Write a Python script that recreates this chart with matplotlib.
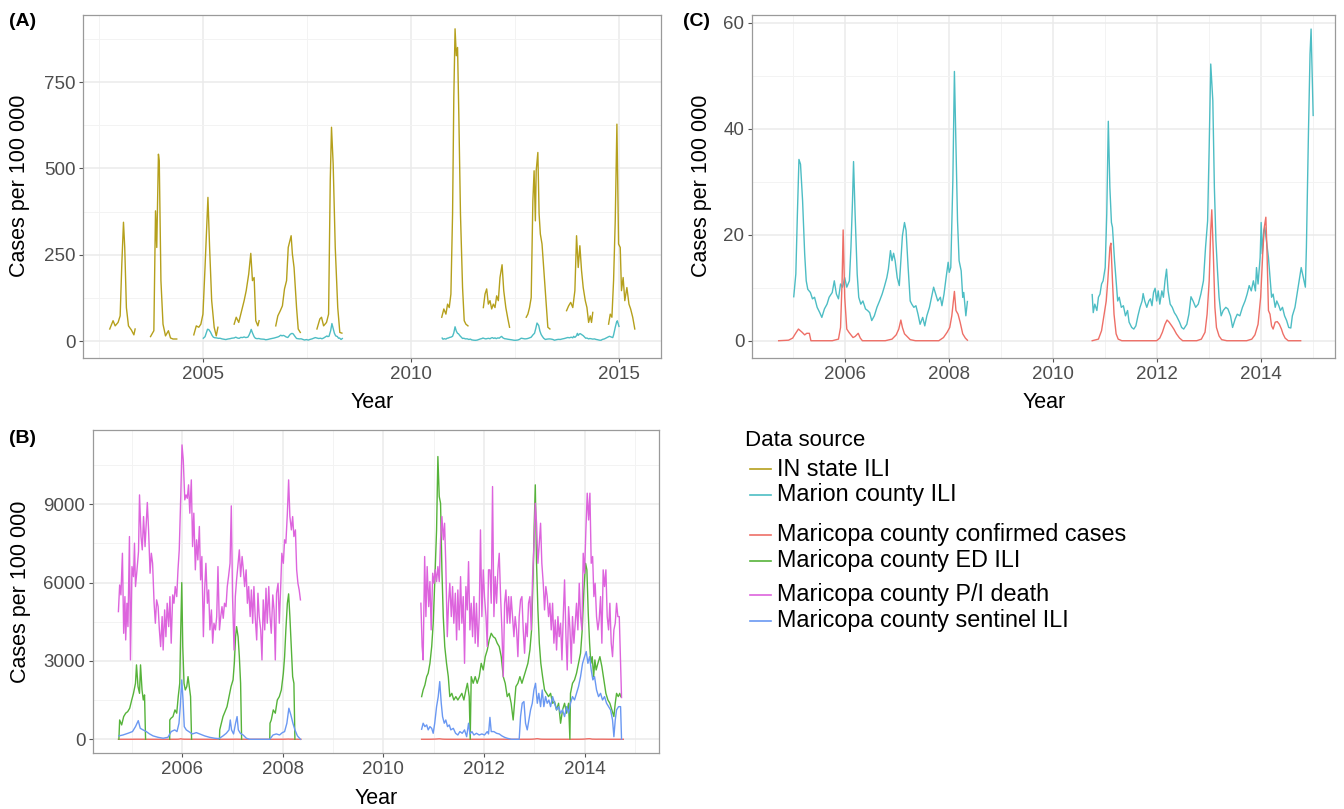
import numpy as np
import matplotlib
matplotlib.use("Agg")
import matplotlib.pyplot as plt
from matplotlib.lines import Line2D

plt.rcParams['font.family'] = ['Liberation Sans', 'DejaVu Sans']

# ---------------- data (decimal year, cases per 100 000) ----------------
SERIES_NAMES = ["IN state ILI", "Marion county ILI", "Maricopa county confirmed cases",
                "Maricopa county ED ILI", "Maricopa county P/I death", "Maricopa county sentinel ILI"]
SERIES_COLORS = ["#B5A01C", "#4DBDC4", "#EE6F67", "#56B33A", "#DD64DD", "#6A98F2"]

in_state_year = [
    2002.77, 2002.85, 2002.90, 2002.97, 2003.02, 2003.06, 2003.10, 2003.13, 2003.17, 2003.22, 2003.29, 2003.35, 2003.38, None,
    2003.75, 2003.83, 2003.87, 2003.90, 2003.94, 2003.96, 2004.00, 2004.05, 2004.11, 2004.18, 2004.23, 2004.29, 2004.38, None,
    2004.79, 2004.85, 2004.91, 2004.96, 2005.01, 2005.06, 2005.13, 2005.17, 2005.22, 2005.28, 2005.33, 2005.37, None,
    2005.76, 2005.81, 2005.87, 2005.93, 2006.00, 2006.05, 2006.11, 2006.16, 2006.20, 2006.24, 2006.28, 2006.33, 2006.36, None,
    2006.76, 2006.81, 2006.87, 2006.92, 2006.97, 2007.02, 2007.06, 2007.10, 2007.13, 2007.16, 2007.20, 2007.26, 2007.30, 2007.35, None,
    2007.75, 2007.82, 2007.86, 2007.91, 2007.98, 2008.03, 2008.07, 2008.10, 2008.14, 2008.19, 2008.25, 2008.30, 2008.35, None,
    2010.75, 2010.80, 2010.85, 2010.89, 2010.93, 2010.97, 2011.01, 2011.04, 2011.07, 2011.10, 2011.13, 2011.16, 2011.20, 2011.25, 2011.29, 2011.33, 2011.38, None,
    2011.75, 2011.79, 2011.83, 2011.87, 2011.91, 2011.95, 2011.99, 2012.03, 2012.07, 2012.11, 2012.15, 2012.20, 2012.24, 2012.29, 2012.34, 2012.38, None,
    2012.78, 2012.82, 2012.86, 2012.90, 2012.94, 2012.97, 2013.00, 2013.02, 2013.06, 2013.09, 2013.12, 2013.16, 2013.21, 2013.26, 2013.30, 2013.35, None,
    2013.75, 2013.80, 2013.85, 2013.90, 2013.95, 2013.99, 2014.03, 2014.07, 2014.11, 2014.15, 2014.20, 2014.24, 2014.28, 2014.32, 2014.35, 2014.38, None,
    2014.76, 2014.80, 2014.84, 2014.88, 2014.92, 2014.96, 2015.00, 2015.04, 2015.07, 2015.11, 2015.15, 2015.20, 2015.25, 2015.29, 2015.34, 2015.39,
]
in_state_value = [
    35, 59, 44, 54, 73, 223, 344, 271, 97, 44, 32, 18, 35, None,
    13, 30, 377, 271, 541, 522, 175, 49, 15, 30, 9, 6, 6, None,
    18, 44, 40, 49, 78, 213, 416, 271, 117, 40, 15, 40, None,
    49, 69, 54, 83, 117, 146, 194, 254, 175, 184, 59, 44, 59, None,
    44, 73, 88, 102, 151, 175, 271, 291, 305, 252, 213, 97, 35, 25, None,
    35, 64, 69, 44, 54, 78, 464, 619, 513, 271, 97, 25, 23, None,
    69, 93, 78, 107, 97, 136, 368, 706, 904, 826, 850, 657, 368, 155, 59, 49, 44, None,
    97, 136, 151, 107, 117, 93, 107, 97, 131, 117, 184, 221, 146, 97, 64, 40, None,
    69, 78, 97, 126, 406, 493, 348, 493, 546, 368, 310, 281, 194, 107, 40, 35, None,
    88, 102, 112, 97, 146, 305, 213, 276, 204, 155, 117, 97, 54, 73, 54, 83, None,
    49, 78, 69, 175, 348, 628, 281, 271, 146, 184, 117, 155, 107, 93, 69, 35,
]

marion_year = [
    2005.02, 2005.06, 2005.09, 2005.12, 2005.15, 2005.19, 2005.23, 2005.26, 2005.29, 2005.34,
    2005.38, 2005.42, 2005.47, 2005.52, 2005.56, 2005.61, 2005.66, 2005.70, 2005.76, 2005.80,
    2005.84, 2005.88, 2005.92, 2005.96, 2006.00, 2006.04, 2006.09, 2006.12, 2006.15, 2006.17,
    2006.20, 2006.24, 2006.27, 2006.31, 2006.35, 2006.40, 2006.44, 2006.48, 2006.52, 2006.57,
    2006.62, 2006.67, 2006.72, 2006.76, 2006.81, 2006.84, 2006.88, 2006.91, 2006.94, 2006.97,
    2007.01, 2007.05, 2007.08, 2007.11, 2007.15, 2007.18, 2007.22, 2007.26, 2007.29, 2007.33,
    2007.37, 2007.41, 2007.45, 2007.50, 2007.54, 2007.58, 2007.63, 2007.67, 2007.71, 2007.75,
    2007.79, 2007.84, 2007.87, 2007.91, 2007.95, 2007.99, 2008.01, 2008.04, 2008.08, 2008.11,
    2008.14, 2008.17, 2008.20, 2008.24, 2008.27, 2008.29, 2008.33, 2008.36, None,
    2010.76, 2010.78, 2010.81, 2010.85, 2010.88, 2010.91, 2010.94, 2010.97, 2011.01, 2011.04,
    2011.07, 2011.10, 2011.13, 2011.15, 2011.19, 2011.22, 2011.25, 2011.28, 2011.32, 2011.36,
    2011.40, 2011.44, 2011.47, 2011.52, 2011.56, 2011.60, 2011.64, 2011.68, 2011.72, 2011.74,
    2011.77, 2011.81, 2011.85, 2011.88, 2011.91, 2011.94, 2011.97, 2012.00, 2012.03, 2012.06,
    2012.10, 2012.13, 2012.16, 2012.19, 2012.22, 2012.26, 2012.30, 2012.34, 2012.38, 2012.44,
    2012.48, 2012.52, 2012.58, 2012.62, 2012.66, 2012.70, 2012.75, 2012.80, 2012.85, 2012.90,
    2012.94, 2012.98, 2013.01, 2013.04, 2013.08, 2013.11, 2013.14, 2013.17, 2013.20, 2013.24,
    2013.28, 2013.33, 2013.37, 2013.42, 2013.46, 2013.51, 2013.55, 2013.60, 2013.65, 2013.70,
    2013.74, 2013.78, 2013.82, 2013.86, 2013.90, 2013.92, 2013.95, 2013.99, 2014.01, 2014.03,
    2014.06, 2014.08, 2014.11, 2014.15, 2014.18, 2014.21, 2014.24, 2014.28, 2014.31, 2014.35,
    2014.38, 2014.42, 2014.46, 2014.50, 2014.54, 2014.58, 2014.61, 2014.66, 2014.70, 2014.74,
    2014.78, 2014.82, 2014.86, 2014.88, 2014.92, 2014.95, 2014.97, 2014.99, 2015.01,
]
marion_value = [
    8.3, 12.6, 23.9, 34.2, 33.3, 26.4, 16.4, 11.3, 9.7, 9.1,
    7.9, 8.2, 6.3, 5.3, 4.4, 6.0, 6.9, 8.2, 9.1, 11.3,
    8.8, 7.9, 10.7, 10.1, 11.9, 10.1, 11.3, 17.6, 26.4, 33.8,
    23.9, 12.6, 8.2, 6.9, 7.5, 6.0, 5.7, 5.3, 3.8, 4.7,
    6.3, 7.5, 8.8, 10.1, 11.9, 13.5, 17.0, 15.1, 16.5, 15.1,
    11.9, 10.4, 15.1, 19.8, 22.3, 20.8, 13.8, 7.5, 6.9, 6.3,
    6.6, 5.0, 3.1, 4.4, 2.8, 4.7, 6.3, 8.2, 10.1, 8.8,
    7.5, 8.2, 6.6, 8.8, 11.9, 14.8, 12.9, 13.8, 30.2, 50.8,
    36.5, 22.6, 15.1, 13.2, 8.2, 9.1, 4.7, 7.4, None,
    8.7, 5.3, 6.9, 5.7, 8.2, 8.8, 10.7, 11.3, 13.8, 23.9,
    41.4, 28.9, 22.3, 21.4, 15.1, 11.3, 7.5, 8.2, 6.3, 6.6,
    4.7, 5.7, 3.5, 2.5, 2.2, 2.8, 4.7, 6.3, 7.5, 8.9,
    7.5, 6.3, 7.5, 7.9, 6.6, 9.1, 9.9, 7.5, 9.4, 6.9,
    9.4, 8.2, 11.3, 13.5, 9.4, 6.9, 6.3, 5.3, 4.7, 3.5,
    2.5, 2.2, 3.1, 5.0, 8.3, 7.5, 6.3, 6.9, 8.8, 11.3,
    17.6, 22.6, 36.5, 52.2, 45.3, 28.9, 18.9, 13.2, 8.2, 4.7,
    5.7, 6.3, 6.0, 4.7, 2.5, 4.1, 5.0, 4.7, 6.3, 7.5,
    8.8, 10.4, 9.4, 11.3, 9.4, 13.8, 10.7, 15.7, 22.3, 16.4,
    20.8, 21.4, 18.9, 15.7, 11.9, 8.2, 8.8, 6.3, 7.5, 6.6,
    5.7, 6.3, 4.7, 3.8, 2.5, 2.4, 4.7, 6.3, 8.8, 11.3,
    13.8, 11.9, 10.1, 17.6, 39.6, 54.1, 58.8, 50.9, 42.5,
]

confirmed_year = [
    2004.73, 2004.92, 2005.00, 2005.05, 2005.11, 2005.18, 2005.23, 2005.27, 2005.32, 2005.35,
    2005.50, 2005.76, 2005.88, 2005.92, 2005.95, 2005.97, 2006.00, 2006.04, 2006.08, 2006.12,
    2006.16, 2006.20, 2006.26, 2006.30, 2006.34, 2006.78, 2006.91, 2006.99, 2007.04, 2007.08,
    2007.11, 2007.15, 2007.20, 2007.26, 2007.36, 2007.81, 2007.90, 2007.97, 2008.02, 2008.06,
    2008.11, 2008.14, 2008.18, 2008.22, 2008.27, 2008.32, 2008.36, None,
    2010.76, 2010.88, 2010.94, 2010.99, 2011.03, 2011.06, 2011.10, 2011.12, 2011.15, 2011.18,
    2011.22, 2011.26, 2011.33, 2012.00, 2012.06, 2012.11, 2012.16, 2012.20, 2012.24, 2012.29,
    2012.33, 2012.38, 2012.44, 2012.50, 2012.77, 2012.86, 2012.93, 2012.97, 2013.01, 2013.04,
    2013.06, 2013.09, 2013.12, 2013.15, 2013.20, 2013.25, 2013.35, 2013.73, 2013.83, 2013.89,
    2013.95, 2014.00, 2014.04, 2014.07, 2014.10, 2014.12, 2014.15, 2014.18, 2014.21, 2014.24,
    2014.28, 2014.32, 2014.36, 2014.40, 2014.43, 2014.47, 2014.53, 2014.77,
]
confirmed_value = [
    0, 0.1, 0.5, 1.3, 2.2, 1.6, 1.1, 1.4, 1.4, 0,
    0, 0, 0.3, 2.5, 11.3, 20.9, 8.2, 2.2, 1.6, 1.1,
    0.6, 0.8, 1.4, 0.5, 0, 0, 0.3, 1.1, 2.2, 3.9,
    2.5, 1.3, 0.8, 0.2, 0, 0, 0.6, 1.6, 2.5, 4.7,
    9.3, 5.7, 5.0, 3.5, 1.3, 0.5, 0.1, None,
    0, 0.3, 1.9, 5.0, 7.5, 11.3, 17.6, 18.4, 11.3, 5.0,
    1.3, 0.3, 0, 0, 0.5, 1.6, 3.1, 3.9, 3.5, 2.8,
    2.2, 1.3, 0.5, 0, 0, 0.3, 1.6, 5.0, 11.3, 20.8,
    24.7, 16.4, 6.3, 2.5, 0.9, 0.2, 0, 0, 0.3, 1.1,
    3.1, 8.2, 16.4, 21.4, 23.3, 17.6, 5.7, 5.0, 2.8, 2.2,
    3.5, 3.6, 3.1, 2.2, 1.3, 0.5, 0, 0,
]

ed_year = [
    2004.74, 2004.755, 2004.795, 2004.835, 2004.875, 2004.915, 2004.955, 2004.995, 2005.03, 2005.07,
    2005.09, 2005.12, 2005.15, 2005.17, 2005.20, 2005.225, 2005.25, 2005.27, None,
    2005.75, 2005.752, 2005.775, 2005.815, 2005.855, 2005.89, 2005.92, 2005.95, 2005.97, 2005.99,
    2006.01, 2006.035, 2006.06, 2006.09, 2006.115, 2006.14, 2006.165, 2006.185, None,
    2006.74, 2006.745, 2006.77, 2006.81, 2006.85, 2006.89, 2006.93, 2006.97, 2007.01, 2007.035,
    2007.06, 2007.08, 2007.11, 2007.135, 2007.16, 2007.18, None,
    2007.74, 2007.745, 2007.77, 2007.81, 2007.85, 2007.89, 2007.93, 2007.97, 2008.01, 2008.035,
    2008.06, 2008.09, 2008.115, 2008.14, 2008.17, 2008.195, 2008.22, 2008.24, None,
    2010.76, 2010.79, 2010.825, 2010.86, 2010.89, 2010.925, 2010.96, 2010.99, 2011.02, 2011.057,
    2011.083, 2011.11, 2011.136, 2011.163, 2011.19, 2011.22, 2011.255, 2011.29, 2011.32, 2011.36,
    2011.40, 2011.44, 2011.48, 2011.52, 2011.56, 2011.60, 2011.64, 2011.67, 2011.706, 2011.726,
    2011.746, 2011.785, 2011.825, 2011.865, 2011.905, 2011.945, 2011.985, 2012.025, 2012.065, 2012.104,
    2012.144, 2012.184, 2012.224, 2012.263, 2012.303, 2012.343, 2012.383, 2012.422, 2012.462, 2012.50,
    2012.54, 2012.58, 2012.608, 2012.634, 2012.674, 2012.714, 2012.754, 2012.794, 2012.833, 2012.873,
    2012.913, 2012.946, 2012.973, 2013.0, 2013.02, 2013.045, 2013.072, 2013.10, 2013.13, 2013.165,
    2013.204, 2013.244, 2013.284, 2013.324, 2013.364, 2013.403, 2013.443, 2013.483, 2013.523, 2013.562,
    2013.602, 2013.642, 2013.682, 2013.708, 2013.72, 2013.76, 2013.80, 2013.84, 2013.88, 2013.92,
    2013.953, 2013.986, 2014.02, 2014.046, 2014.073, 2014.10, 2014.125, 2014.152, 2014.18, 2014.205,
    2014.23, 2014.265, 2014.305, 2014.344, 2014.384, 2014.424, 2014.464, 2014.503, 2014.543, 2014.583,
    2014.61, 2014.636, 2014.67, 2014.70, 2014.72,
]
ed_value = [
    0, 740, 550, 870, 1000, 1060, 1190, 1505, 1760, 2145,
    2850, 2020, 1760, 2850, 1890, 1505, 1700, 0, None,
    0, 740, 805, 870, 1125, 1000, 1635, 2145, 4190, 6000,
    3550, 2145, 1890, 2020, 2400, 2020, 1635, 0, None,
    0, 360, 550, 870, 1060, 1250, 1635, 2020, 2275, 2910,
    3930, 4315, 3930, 3165, 2145, 0, None,
    0, 615, 740, 1125, 1000, 1505, 1635, 1890, 2530, 3165,
    4190, 5210, 5570, 4700, 3420, 2400, 2145, 0, None,
    1635, 1890, 2080, 2400, 2530, 2910, 3550, 4445, 5975, 8020,
    10830, 9300, 9040, 6490, 4700, 3550, 2910, 2400, 1635, 1760,
    1505, 1635, 1505, 1635, 1760, 1505, 1890, 2145, 1635, 0,
    2400, 2145, 2400, 2145, 2400, 2910, 2655, 3165, 3420, 3805,
    4060, 3930, 3870, 3680, 3550, 3165, 2400, 2145, 1635, 1760,
    1380, 740, 1380, 2020, 2145, 2400, 2145, 2400, 2655, 2910,
    3420, 4190, 5975, 8275, 9745, 6740, 4955, 3680, 2910, 2400,
    1890, 1760, 1635, 1760, 1380, 1445, 1125, 1380, 615, 1125,
    1380, 1000, 1380, 0, 1760, 2145, 2275, 2530, 2910, 3295,
    4190, 5720, 6740, 6490, 4825, 3680, 2910, 3165, 2400, 3040,
    2655, 2910, 3165, 2785, 2275, 1760, 1505, 1380, 1125, 870,
    1380, 1760, 1635, 1760, 1635,
]

pi_death_year = [
    2004.73, 2004.755, 2004.78, 2004.81, 2004.835, 2004.86, 2004.875, 2004.90, 2004.92, 2004.95,
    2004.97, 2005.00, 2005.03, 2005.05, 2005.07, 2005.10, 2005.13, 2005.15, 2005.18, 2005.205,
    2005.23, 2005.26, 2005.285, 2005.305, 2005.33, 2005.36, 2005.385, 2005.41, 2005.44, 2005.465,
    2005.49, 2005.52, 2005.545, 2005.57, 2005.60, 2005.62, 2005.65, 2005.675, 2005.70, 2005.73,
    2005.755, 2005.78, 2005.81, 2005.835, 2005.86, 2005.89, 2005.915, 2005.94, 2005.97, 2005.995,
    2006.02, 2006.05, 2006.075, 2006.10, 2006.125, 2006.15, 2006.18, 2006.205, 2006.23, 2006.26,
    2006.285, 2006.31, 2006.34, 2006.365, 2006.39, 2006.42, 2006.445, 2006.47, 2006.50, 2006.525,
    2006.55, 2006.58, 2006.605, 2006.63, 2006.66, 2006.685, 2006.71, 2006.74, 2006.765, 2006.79,
    2006.815, 2006.84, 2006.87, 2006.895, 2006.92, 2006.95, 2006.975, 2007.00, 2007.03, 2007.055,
    2007.08, 2007.11, 2007.135, 2007.16, 2007.19, 2007.215, 2007.24, 2007.27, 2007.295, 2007.32,
    2007.35, 2007.375, 2007.40, 2007.425, 2007.45, 2007.48, 2007.505, 2007.53, 2007.56, 2007.585,
    2007.61, 2007.64, 2007.665, 2007.69, 2007.72, 2007.745, 2007.77, 2007.80, 2007.825, 2007.85,
    2007.875, 2007.905, 2007.93, 2007.955, 2007.98, 2008.01, 2008.035, 2008.06, 2008.09, 2008.115,
    2008.14, 2008.17, 2008.195, 2008.22, 2008.25, 2008.275, 2008.30, 2008.325, 2008.35, None,
    2010.745, 2010.77, 2010.79, 2010.82, 2010.845, 2010.87, 2010.90, 2010.925, 2010.95, 2010.98,
    2011.004, 2011.03, 2011.057, 2011.083, 2011.11, 2011.136, 2011.163, 2011.19, 2011.216, 2011.24,
    2011.27, 2011.295, 2011.32, 2011.35, 2011.375, 2011.40, 2011.43, 2011.455, 2011.48, 2011.507,
    2011.534, 2011.56, 2011.587, 2011.613, 2011.64, 2011.667, 2011.693, 2011.72, 2011.746, 2011.773,
    2011.80, 2011.825, 2011.85, 2011.88, 2011.905, 2011.93, 2011.958, 2011.985, 2012.01, 2012.04,
    2012.065, 2012.09, 2012.118, 2012.144, 2012.17, 2012.197, 2012.224, 2012.25, 2012.277, 2012.303,
    2012.33, 2012.356, 2012.383, 2012.41, 2012.436, 2012.462, 2012.49, 2012.515, 2012.54, 2012.568,
    2012.595, 2012.62, 2012.648, 2012.674, 2012.70, 2012.727, 2012.754, 2012.78, 2012.807, 2012.833,
    2012.86, 2012.886, 2012.913, 2012.94, 2012.966, 2012.993, 2013.02, 2013.045, 2013.072, 2013.10,
    2013.125, 2013.15, 2013.178, 2013.204, 2013.23, 2013.257, 2013.284, 2013.31, 2013.337, 2013.364,
    2013.39, 2013.417, 2013.443, 2013.47, 2013.496, 2013.523, 2013.55, 2013.576, 2013.602, 2013.63,
    2013.655, 2013.682, 2013.71, 2013.735, 2013.76, 2013.788, 2013.814, 2013.84, 2013.867, 2013.894,
    2013.92, 2013.947, 2013.973, 2014.00, 2014.026, 2014.053, 2014.08, 2014.106, 2014.132, 2014.16,
    2014.185, 2014.21, 2014.238, 2014.265, 2014.29, 2014.318, 2014.344, 2014.37, 2014.397, 2014.424,
    2014.45, 2014.477, 2014.503, 2014.53, 2014.556, 2014.583, 2014.61, 2014.636, 2014.662, 2014.69,
    2014.716, 2014.735,
]
pi_death_value = [
    4890, 5910, 5530, 7125, 4060, 5465, 3805, 5210, 4315, 7765,
    3040, 6615, 6230, 7510, 5850, 6490, 7190, 9360, 7765, 7255,
    8530, 7380, 8275, 9070, 8020, 6360, 7125, 6740, 5210, 4445,
    5340, 5080, 4190, 3550, 4700, 3420, 4955, 3930, 5210, 4315,
    5465, 3680, 5530, 5210, 5850, 5465, 6490, 7255, 9300, 11275,
    10700, 9170, 9360, 9230, 9745, 8660, 9935, 7380, 8660, 6490,
    7640, 6870, 8150, 6105, 7000, 3930, 5720, 6740, 5210, 5720,
    4190, 4955, 3680, 4445, 4190, 4700, 6615, 4190, 4700, 5080,
    4635, 5210, 5080, 5850, 6230, 6740, 8940, 5465, 3420, 5465,
    6105, 6740, 7255, 6230, 7000, 6490, 5850, 6490, 5210, 5850,
    4700, 5720, 4445, 5850, 4700, 3805, 5595, 4700, 4190, 3040,
    5340, 4190, 5785, 4445, 5850, 4700, 4060, 5530, 4955, 3040,
    5595, 5975, 4445, 5720, 7125, 6740, 7640, 7510, 8660, 9935,
    8530, 8020, 8530, 7765, 8020, 6490, 5975, 5720, 5340, None,
    5210, 3550, 3040, 7000, 4700, 6615, 5080, 6040, 4190, 6360,
    5975, 6490, 6040, 6615, 6040, 7640, 8530, 7640, 8275, 6740,
    3930, 5210, 5975, 4700, 5850, 4445, 5595, 3805, 5720, 4190,
    6230, 4445, 5465, 2910, 5850, 4955, 6805, 4190, 5210, 3930,
    5465, 3680, 5210, 3550, 4700, 8020, 4700, 6490, 5465, 4700,
    3550, 6490, 6490, 5210, 9680, 4700, 6230, 5210, 6490, 7125,
    5465, 4190, 2400, 5210, 5720, 4445, 5465, 4445, 5465, 4700,
    3930, 4700, 4190, 3165, 4700, 5340, 5465, 4190, 3295, 4445,
    3930, 5210, 5465, 4190, 6230, 7380, 9040, 8275, 6740, 7510,
    8275, 6740, 5975, 4955, 5850, 5465, 4700, 5210, 4190, 5210,
    3680, 4570, 3420, 4700, 3930, 4445, 3040, 4700, 6105, 3930,
    2655, 5080, 4190, 2910, 4700, 3680, 4445, 5210, 4190, 5975,
    4700, 4190, 7125, 6360, 8020, 9425, 8400, 9425, 6740, 7000,
    5465, 5975, 4700, 4190, 4570, 5465, 3680, 6490, 5850, 6490,
    4700, 4190, 5210, 3680, 3165, 4190, 4445, 5210, 4700, 4700,
    2910, 1600,
]

sentinel_year = [
    2004.74, 2004.82, 2004.92, 2005.01, 2005.07, 2005.125, 2005.165, 2005.22, 2005.285, 2005.35,
    2005.42, 2005.52, 2005.62, 2005.715, 2005.78, 2005.85, 2005.895, 2005.935, 2005.96, 2005.99,
    2006.015, 2006.04, 2006.08, 2006.13, 2006.20, 2006.28, 2006.345, 2006.445, 2006.545, 2006.645,
    2006.73, 2006.81, 2006.875, 2006.93, 2006.955, 2006.98, 2007.02, 2007.06, 2007.09, 2007.115,
    2007.155, 2007.21, 2007.275, 2007.34, 2007.74, 2007.805, 2007.87, 2007.935, 2007.99, 2008.035,
    2008.08, 2008.12, 2008.16, 2008.20, 2008.24, 2008.29, 2008.35, None,
    2010.76, 2010.79, 2010.825, 2010.86, 2010.89, 2010.925, 2010.96, 2010.99, 2011.02, 2011.057,
    2011.09, 2011.12, 2011.15, 2011.176, 2011.21, 2011.24, 2011.275, 2011.31, 2011.34, 2011.39,
    2011.435, 2011.48, 2011.52, 2011.567, 2011.613, 2011.655, 2011.693, 2011.72, 2011.76, 2011.80,
    2011.85, 2011.905, 2011.958, 2012.01, 2012.065, 2012.09, 2012.118, 2012.144, 2012.197, 2012.25,
    2012.303, 2012.356, 2012.41, 2012.462, 2012.548, 2012.70, 2012.727, 2012.76, 2012.794, 2012.826,
    2012.86, 2012.893, 2012.926, 2012.96, 2012.993, 2013.025, 2013.06, 2013.09, 2013.125, 2013.158,
    2013.19, 2013.224, 2013.257, 2013.29, 2013.324, 2013.364, 2013.403, 2013.443, 2013.483, 2013.523,
    2013.562, 2013.602, 2013.642, 2013.682, 2013.72, 2013.76, 2013.80, 2013.84, 2013.88, 2013.92,
    2013.96, 2014.0, 2014.033, 2014.066, 2014.10, 2014.132, 2014.165, 2014.198, 2014.238, 2014.278,
    2014.318, 2014.357, 2014.397, 2014.437, 2014.477, 2014.517, 2014.556, 2014.583, 2014.61, 2014.636,
    2014.676, 2014.716, 2014.735,
]
sentinel_value = [
    130, 165, 230, 295, 485, 715, 420, 360, 295, 205,
    130, 75, 40, 75, 295, 360, 295, 615, 1250, 2275,
    1505, 485, 360, 295, 205, 255, 205, 130, 75, 40,
    25, 130, 230, 360, 740, 360, 205, 615, 870, 360,
    230, 165, 40, 0, 0, 165, 205, 165, 255, 295,
    615, 1190, 930, 615, 360, 130, 0, None,
    385, 615, 485, 550, 360, 485, 420, 230, 615, 1250,
    1635, 2210, 1380, 870, 615, 740, 485, 550, 360, 420,
    230, 165, 295, 230, 360, 100, 615, 205, 295, 165,
    230, 165, 205, 165, 295, 205, 840, 295, 295, 230,
    205, 130, 75, 40, 0, 0, 870, 1380, 1445, 615,
    360, 740, 1125, 1380, 1890, 2145, 1380, 1760, 1250, 1890,
    1250, 1635, 1380, 1505, 1250, 1635, 1380, 1125, 1250, 1000,
    1125, 870, 1250, 1000, 1380, 1635, 1505, 1760, 2020, 2400,
    2910, 3165, 3360, 2910, 3165, 2655, 2275, 2400, 1890, 1635,
    1760, 1505, 1635, 1380, 1250, 1125, 740, 100, 740, 1125,
    1250, 1250, 0,
]

# axis ticks
A_XTICKS = [2005, 2010, 2015]
A_YTICKS = [0, 250, 500, 750]
BC_XTICKS = [2006, 2008, 2010, 2012, 2014]
B_YTICKS = [0, 3000, 6000, 9000]
C_YTICKS = [0, 20, 40, 60]


def arr(lst):
    return np.array([np.nan if v is None else v for v in lst], dtype=float)


def series(name):
    table = {
        "IN state ILI": (in_state_year, in_state_value),
        "Marion county ILI": (marion_year, marion_value),
        "Maricopa county confirmed cases": (confirmed_year, confirmed_value),
        "Maricopa county ED ILI": (ed_year, ed_value),
        "Maricopa county P/I death": (pi_death_year, pi_death_value),
        "Maricopa county sentinel ILI": (sentinel_year, sentinel_value),
    }
    x, y = table[name]
    assert len(x) == len(y), (name, len(x), len(y))
    return arr(x), arr(y)


COLOR = dict(zip(SERIES_NAMES, SERIES_COLORS))

W, H = 1344, 809
fig = plt.figure(figsize=(W / 100, H / 100), dpi=100)


def add_axes(l, t, r, b):
    return fig.add_axes([l / W, 1 - b / H, (r - l) / W, (b - t) / H])


def style(ax, xticks, xminor, yticks, yminor, xlim, ylim):
    ax.set_xlim(*xlim)
    ax.set_ylim(*ylim)
    ax.set_xticks(xticks)
    ax.set_xticks(xminor, minor=True)
    ax.set_yticks(yticks)
    ax.set_yticks(yminor, minor=True)
    ax.set_xticklabels([str(v) for v in xticks])
    ax.set_yticklabels([str(v) for v in yticks])
    ax.grid(which='major', color='#EBEBEB', lw=1.1, zorder=0)
    ax.grid(which='minor', color='#F3F3F3', lw=0.7, zorder=0)
    ax.set_axisbelow(True)
    ax.tick_params(which='major', length=3, width=0.8, color='#555555',
                   labelsize=13.5, labelcolor='#4D4D4D', pad=2.5)
    ax.tick_params(which='minor', length=0)
    for s in ax.spines.values():
        s.set_color('#9A9A9A')
        s.set_linewidth(0.9)


LW = 1.0

# Panel A
axA = add_axes(83, 15, 661, 358)
for nm in ["IN state ILI", "Marion county ILI"]:
    x, y = series(nm)
    axA.plot(x, y, color=COLOR[nm], lw=LW)
style(axA, A_XTICKS, [2002.5, 2007.5, 2012.5], A_YTICKS, [125, 375, 625, 875],
      (2002.127, 2016.02), (-49, 944))

# Panel C
axC = add_axes(752, 15, 1335, 358)
for nm in ["Marion county ILI", "Maricopa county confirmed cases"]:
    x, y = series(nm)
    axC.plot(x, y, color=COLOR[nm], lw=LW)
style(axC, BC_XTICKS, [2005, 2007, 2009, 2011, 2013, 2015], C_YTICKS, [10, 30, 50],
      (2004.217, 2015.43), (-3.26, 61.45))

# Panel B
axB = add_axes(93, 430, 659, 753)
for nm in ["Maricopa county confirmed cases", "Maricopa county ED ILI",
           "Maricopa county P/I death", "Maricopa county sentinel ILI"]:
    x, y = series(nm)
    axB.plot(x, y, color=COLOR[nm], lw=LW)
style(axB, BC_XTICKS, [2005, 2007, 2009, 2011, 2013, 2015], B_YTICKS, [1500, 4500, 7500, 10500],
      (2004.225, 2015.48), (-525, 11846))


def ftext(px, py, s, **kw):
    fig.text(px / W, 1 - py / H, s, **kw)


# axis titles
ftext(20, 186, "Cases per 100 000", rotation=90, ha='center', va='center', fontsize=15.5)
ftext(21, 592, "Cases per 100 000", rotation=90, ha='center', va='center', fontsize=15.5)
ftext(702, 186, "Cases per 100 000", rotation=90, ha='center', va='center', fontsize=15.5)
ftext(372, 402, "Year", ha='center', va='center', fontsize=15.5)
ftext(1044, 402, "Year", ha='center', va='center', fontsize=15.5)
ftext(376, 798, "Year", ha='center', va='center', fontsize=15.5)

# panel tags
ftext(9, 22, "(A)", ha='left', va='center', fontsize=14, fontweight='bold')
ftext(9, 438, "(B)", ha='left', va='center', fontsize=14, fontweight='bold')
ftext(683, 22, "(C)", ha='left', va='center', fontsize=14, fontweight='bold')

# legend
LEGEND_Y = [469, 495, 535, 561, 595, 621]
ftext(745, 440, "Data source", ha='left', va='center', fontsize=16)
for nm, yy in zip(SERIES_NAMES, LEGEND_Y):
    fig.add_artist(Line2D([750 / W, 771 / W], [1 - yy / H, 1 - yy / H],
                          color=COLOR[nm], lw=1.2, transform=fig.transFigure))
    ftext(777, yy, nm, ha='left', va='center', fontsize=16.8)

fig.savefig("out.png", dpi=100)
